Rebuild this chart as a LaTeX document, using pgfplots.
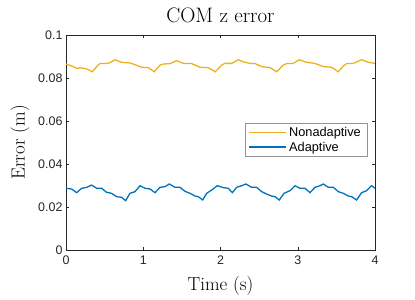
\documentclass[border=0pt]{standalone}
\usepackage{fontspec}
\usepackage{pgfplots}
\pgfplotsset{compat=1.18}
\newfontfamily\arial{Liberation Sans}
\definecolor{mblue}{rgb}{0,0.447,0.741}
\definecolor{myellow}{rgb}{0.929,0.694,0.125}
\definecolor{axgray}{rgb}{0.15,0.15,0.15}
\begin{document}
\begin{tikzpicture}
\begin{axis}[
  at={(0,0)}, anchor=south west,
  scale only axis, width=309bp, height=215bp,
  xmin=0, xmax=4, ymin=0, ymax=0.1,
  xtick={0,1,2,3,4}, ytick={0,0.02,0.04,0.06,0.08,0.1},
  yticklabels={0,0.02,0.04,0.06,0.08,0.1},
  scaled y ticks=false,
  tick align=inside, tick pos=both,
  major tick length=3bp,
  axis line style={axgray, line width=0.5pt},
  every tick/.style={axgray, line width=0.5pt},
  tick label style={font=\arial\fontsize{12.5}{14}\selectfont, text=axgray},
  xticklabel style={yshift=-2bp},
  /pgf/number format/assume math mode=true,
  title={COM z error},
  title style={font=\fontsize{21}{24}\selectfont, yshift=3bp},
  xlabel={Time (s)},
  ylabel={Error (m)},
  label style={font=\fontsize{19}{22}\selectfont},
  xlabel style={yshift=-5bp},
  ylabel style={yshift=2bp},
  legend style={at={(0.974,0.591)}, anchor=north east, font=\arial\fontsize{12.8}{15}\selectfont,
    draw=axgray!50, inner xsep=4pt, inner ysep=2pt, row sep=0pt, text=black},
  legend cell align=left,
  legend image code/.code={\draw[#1, line width=1.5pt] (0bp,0bp) -- (37bp,0bp);},
]
\addplot[myellow, line width=1.3pt] coordinates {
(0,0.0865)(0.073,0.0856)(0.138,0.0845)(0.203,0.0847)(0.268,0.0842)(0.341,0.0829)(0.397,0.0853)(0.44,0.0867)(0.526,0.0868)(0.57,0.0871)(0.634,0.0885)(0.72,0.0873)(0.828,0.087)(0.915,0.0859)(0.98,0.085)(1.066,0.0848)(1.143,0.0829)(1.217,0.086)(1.26,0.0865)(1.346,0.0867)(1.433,0.0881)(1.519,0.0868)(1.627,0.0867)(1.735,0.085)(1.842,0.0848)(1.933,0.0829)(2.015,0.086)(2.058,0.0868)(2.145,0.0868)(2.231,0.0885)(2.296,0.0875)(2.382,0.0868)(2.447,0.0867)(2.533,0.0853)(2.641,0.0848)(2.727,0.0829)(2.813,0.086)(2.857,0.0867)(2.943,0.0868)(3.02,0.0885)(3.115,0.0873)(3.223,0.0868)(3.331,0.0853)(3.439,0.085)(3.525,0.0829)(3.59,0.0856)(3.633,0.0867)(3.72,0.0868)(3.827,0.0885)(3.914,0.0873)(4.0,0.0868)
};
\addlegendentry{Nonadaptive}
\addplot[mblue, line width=1.3pt] coordinates {
(0,0.0287)(0.073,0.02837)(0.138,0.02667)(0.203,0.0287)(0.268,0.02915)(0.332,0.0302)(0.397,0.0287)(0.462,0.0287)(0.526,0.02682)(0.591,0.02636)(0.656,0.0248)(0.72,0.0245)(0.772,0.02295)(0.828,0.02636)(0.893,0.02713)(0.958,0.0299)(1.023,0.0287)(1.087,0.02837)(1.152,0.02667)(1.217,0.02915)(1.282,0.02946)(1.337,0.0307)(1.411,0.02915)(1.476,0.02915)(1.54,0.02729)(1.605,0.02636)(1.67,0.0251)(1.713,0.0248)(1.769,0.02326)(1.821,0.02636)(1.886,0.0279)(1.959,0.0299)(2.037,0.029)(2.101,0.0287)(2.153,0.02667)(2.209,0.02915)(2.274,0.0299)(2.33,0.0307)(2.403,0.02915)(2.468,0.02915)(2.533,0.02713)(2.598,0.026)(2.662,0.0251)(2.705,0.0248)(2.761,0.02326)(2.822,0.02636)(2.9,0.0276)(2.964,0.0299)(3.029,0.0287)(3.094,0.0287)(3.158,0.02667)(3.223,0.02915)(3.288,0.0299)(3.331,0.0307)(3.396,0.02915)(3.46,0.02915)(3.525,0.02713)(3.59,0.02636)(3.655,0.0251)(3.698,0.0248)(3.762,0.02326)(3.827,0.02667)(3.892,0.0276)(3.956,0.0299)(4.0,0.0287)
};
\addlegendentry{Adaptive}
\end{axis}
\pgfresetboundingbox
\path (-66bp,-50bp) rectangle (349bp,250bp);
\end{tikzpicture}
\end{document}
